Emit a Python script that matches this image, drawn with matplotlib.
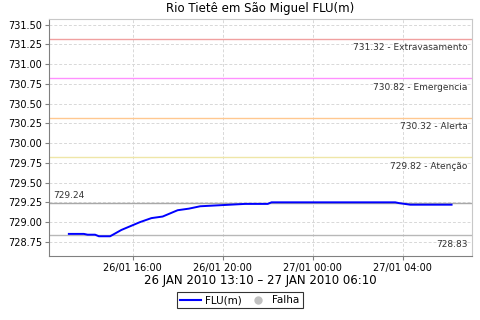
import matplotlib
matplotlib.use("Agg")
import matplotlib.pyplot as plt
import matplotlib.dates as mdates
from matplotlib.lines import Line2D
from datetime import datetime

# leituras do nivel (FLU) - 26/01/2010 13:10 ate 27/01/2010 06:10
times = ["2010-01-26 13:10", "2010-01-26 13:50", "2010-01-26 14:00", "2010-01-26 14:20",
         "2010-01-26 14:30", "2010-01-26 15:00", "2010-01-26 15:30", "2010-01-26 16:00",
         "2010-01-26 16:20", "2010-01-26 16:50", "2010-01-26 17:20", "2010-01-26 17:40",
         "2010-01-26 18:00", "2010-01-26 18:30", "2010-01-26 19:00", "2010-01-26 19:40",
         "2010-01-26 20:20", "2010-01-26 21:00", "2010-01-26 22:00", "2010-01-26 22:10",
         "2010-01-27 03:40", "2010-01-27 03:50", "2010-01-27 04:20", "2010-01-27 06:10"]
flu = [728.85, 728.85, 728.84, 728.84,
       728.82, 728.82, 728.90, 728.96,
       729.00, 729.05, 729.07, 729.11,
       729.15, 729.17, 729.20, 729.21,
       729.22, 729.23, 729.23, 729.25,
       729.25, 729.24, 729.22, 729.22]

# cotas de referencia
ref_values = [731.32, 730.82, 730.32, 729.82]
ref_names = ["Extravasamento", "Emergencia", "Alerta", "Atenção"]
ref_colors = ["#f0a0a0", "#ff90ff", "#ffc890", "#efe6a8"]
max_val = 729.24
min_val = 728.83

x = [datetime.strptime(t, "%Y-%m-%d %H:%M") for t in times]

fig = plt.figure(figsize=(4.8, 3.2), dpi=100)
ax = fig.add_axes([0.102, 0.2, 0.881, 0.74])

ax.grid(True, color="#d8d8d8", linestyle=(0, (3, 2)), linewidth=0.7)
ax.set_axisbelow(True)

trans = ax.get_yaxis_transform()
for v, name, c in zip(ref_values, ref_names, ref_colors):
    ax.axhline(v, color=c, linewidth=1.0)
    ax.annotate(f"{v:.2f} - {name}", xy=(0.99, v), xycoords=trans,
                xytext=(0, -3), textcoords="offset points",
                ha="right", va="top", fontsize=6.5, color="#333333")

ax.axhline(max_val, color="#a8a8a8", linewidth=1.0)
ax.annotate(f"{max_val:.2f}", xy=(0.01, max_val), xycoords=trans,
            xytext=(0, 2), textcoords="offset points",
            ha="left", va="bottom", fontsize=6.5, color="#333333")
ax.axhline(min_val, color="#b8b8b8", linewidth=1.0)
ax.annotate(f"{min_val:.2f}", xy=(0.99, min_val), xycoords=trans,
            xytext=(0, -3), textcoords="offset points",
            ha="right", va="top", fontsize=6.5, color="#333333")

ax.plot(x, flu, color="#0000ff", linewidth=1.4)

ax.set_xlim(datetime(2010, 1, 26, 12, 17), datetime(2010, 1, 27, 7, 4))
ax.set_ylim(728.57, 731.57)
ax.set_yticks([728.75 + 0.25 * i for i in range(12)])
ax.yaxis.set_major_formatter(matplotlib.ticker.FormatStrFormatter("%.2f"))
ax.xaxis.set_major_locator(mdates.HourLocator(byhour=[0, 4, 8, 12, 16, 20]))
ax.xaxis.set_major_formatter(mdates.DateFormatter("%d/%m %H:%M"))
ax.tick_params(labelsize=7, length=3, width=0.8, color="#808080", pad=2)

for s in ["left", "bottom"]:
    ax.spines[s].set_color("#808080")
for s in ["top", "right"]:
    ax.spines[s].set_color("#c8c8c8")

ax.set_title("Rio Tietê em São Miguel FLU(m)", fontsize=8.5, pad=5)
ax.set_xlabel("26 JAN 2010 13:10 – 27 JAN 2010 06:10", fontsize=8.5, labelpad=1)

handles = [Line2D([], [], color="#0000ff", linewidth=1.5),
           Line2D([], [], color="#c0c0c0", marker="o", linestyle="none", markersize=5)]
leg = fig.legend(handles, ["FLU(m)", "Falha"], loc="center", bbox_to_anchor=(0.5, 0.062),
                 ncol=2, fontsize=7.5, frameon=True, fancybox=False, handlelength=2,
                 handletextpad=0.4, columnspacing=0.5, borderpad=0.3)
leg.get_frame().set_edgecolor("black")
leg.get_frame().set_linewidth(0.8)

plt.savefig("out.png", dpi=100)
plt.close()
